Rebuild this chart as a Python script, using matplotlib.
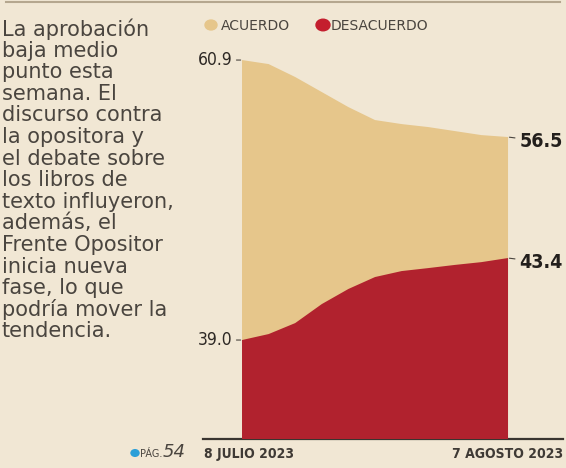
import matplotlib
matplotlib.use("Agg")
import matplotlib.pyplot as plt
from matplotlib.patches import Circle
from matplotlib.lines import Line2D

# ---- data ----
days = [0, 3, 6, 9, 12, 15, 18, 21, 24, 27, 30]
acuerdo = [60.9, 60.67, 59.93, 59.07, 58.21, 57.47, 57.24, 57.07, 56.84, 56.61, 56.5]
desacuerdo = [39.0, 39.32, 39.91, 40.93, 41.74, 42.38, 42.70, 42.86, 43.03, 43.18, 43.4]
date_labels = ["8 JULIO 2023", "7 AGOSTO 2023"]
series_names = ["ACUERDO", "DESACUERDO"]
body_text = ["La aprobación", "baja medio", "punto esta", "semana. El",
             "discurso contra", "la opositora y", "el debate sobre",
             "los libros de", "texto influyeron,", "además, el",
             "Frente Opositor", "inicia nueva", "fase, lo que",
             "podría mover la", "tendencia."]

BG = "#f1e7d4"
TAN = "#e6c68b"
RED = "#b1222e"
TXT = "#4a453f"
COND = dict(family="DejaVu Sans", fontstretch="condensed")
BODY = ["DejaVu Sans"]

W, H = 566, 468
fig = plt.figure(figsize=(W / 100, H / 100), dpi=100, facecolor=BG)

def frac_rect(x0, y0, x1, y1):
    return [x0 / W, 1 - y1 / H, (x1 - x0) / W, (y1 - y0) / H]

ax1 = fig.add_axes(frac_rect(203, 45, 563, 439))
ax1.set_facecolor("none")
ax2 = ax1.twinx()
ax2.set_facecolor("none")

ax1.set_xlim(-4.4, 36.2)
ax1.set_ylim(39.24, 61.76)
ax2.set_ylim(33.69, 54.83)

ax1.fill_between(days, acuerdo, 0, color=TAN, lw=0)
ax2.fill_between(days, desacuerdo, 0, color=RED, lw=0)

for a in (ax1, ax2):
    for s in a.spines.values():
        s.set_visible(False)
    a.set_xticks([])
    a.set_yticks([])
ax1.spines["bottom"].set_visible(True)
ax1.spines["bottom"].set_color("#3a3530")
ax1.spines["bottom"].set_linewidth(1.6)

arrow = dict(arrowstyle="-", color=TXT, lw=0.8, shrinkA=1, shrinkB=1)
ax1.annotate(f"{acuerdo[0]:.1f}", xy=(days[0], acuerdo[0]), xytext=(-7, 0),
             textcoords="offset points", ha="right", va="center",
             fontsize=12.5, color="#2e2925", arrowprops=arrow, **COND)
ax2.annotate(f"{desacuerdo[0]:.1f}", xy=(days[0], desacuerdo[0]), xytext=(-7, 0),
             textcoords="offset points", ha="right", va="center",
             fontsize=12.5, color="#2e2925", arrowprops=arrow, **COND)
ax1.annotate(f"{acuerdo[-1]:.1f}", xy=(days[-1], acuerdo[-1]), xytext=(8, -3),
             textcoords="offset points", ha="left", va="center",
             fontsize=14, fontweight="bold", color="#231f1c", arrowprops=arrow, **COND)
ax2.annotate(f"{desacuerdo[-1]:.1f}", xy=(days[-1], desacuerdo[-1]), xytext=(8, -3),
             textcoords="offset points", ha="left", va="center",
             fontsize=14, fontweight="bold", color="#231f1c", arrowprops=arrow, **COND)

# date labels
fig.text(204 / W, 1 - 454 / H, date_labels[0], ha="left", va="center",
         fontsize=10, fontweight="bold", color="#3f3a35", **COND)
fig.text(563 / W, 1 - 454 / H, date_labels[1], ha="right", va="center",
         fontsize=10, fontweight="bold", color="#3f3a35", **COND)

# legend
fig.patches.append(Circle((211 / W, 1 - 25 / H), 6 / W, transform=fig.transFigure, color=TAN))
fig.text(221 / W, 1 - 25.5 / H, series_names[0], ha="left", va="center",
         fontsize=10, family=BODY, color=TXT)
fig.patches.append(Circle((323 / W, 1 - 25 / H), 7 / W, transform=fig.transFigure, color="#c41e2e"))
fig.text(331 / W, 1 - 25.5 / H, series_names[1], ha="left", va="center",
         fontsize=10, family=BODY, color=TXT)

# body text
for i, line in enumerate(body_text):
    fig.text(2 / W, 1 - (29 + i * 21.6) / H, line, ha="left", va="center",
             fontsize=15, family=BODY, color=TXT)

# page ref
fig.patches.append(Circle((135 / W, 1 - 453 / H), 4 / W, transform=fig.transFigure, color="#2b9fd8"))
fig.text(140 / W, 1 - 454 / H, "PÁG.", ha="left", va="center",
         fontsize=7, family=BODY, color=TXT)
fig.text(163 / W, 1 - 452 / H, "54", ha="left", va="center",
         fontsize=13, family=BODY, style="italic", color=TXT)

# top rule
fig.add_artist(Line2D([6 / W, 560 / W], [1 - 1.5 / H, 1 - 1.5 / H],
               transform=fig.transFigure, color="#b5a78f", lw=1.5))

fig.savefig("out.png", dpi=100, facecolor=BG)
